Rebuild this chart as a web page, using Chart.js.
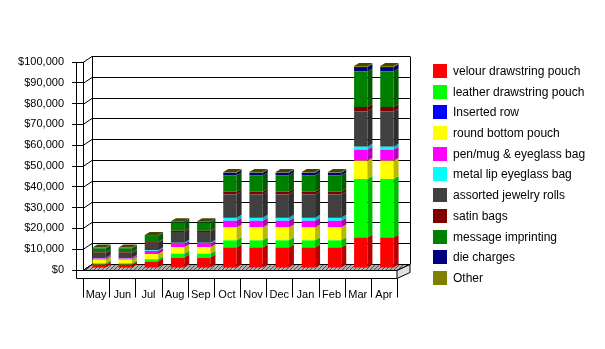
<!DOCTYPE html>
<html>
<head>
<meta charset="utf-8">
<script src="https://cdn.jsdelivr.net/npm/chart.js@4.4.0/dist/chart.umd.min.js"></script>
<style>
  body { margin: 0; background: #fff; }
  #wrap { position: relative; width: 605px; height: 349px; }
  #legend { position: absolute; left: 433px; top: 64px; font: 12px 'Liberation Sans', Arial, sans-serif; color: #000; }
  #legend .row { height: 20.7px; display: flex; align-items: flex-start; white-space: nowrap; }
  #legend .box { width: 14px; height: 14px; margin-right: 6px; flex: none; }
  #legend .txt { line-height: 14px; }
</style>
</head>
<body>
<div id="wrap">
  <canvas id="chart" width="605" height="349"></canvas>
  <div id="legend"></div>
</div>
<script>
const months = ['May', 'Jun', 'Jul', 'Aug', 'Sep', 'Oct', 'Nov', 'Dec', 'Jan', 'Feb', 'Mar', 'Apr'];

// monthly sales per product line, in dollars
const velour      = [1600, 1600, 3100, 5000, 5000, 9900, 9900, 9900, 9900, 9900, 14700, 14700];
const leather     = [700, 700, 1100, 1900, 1900, 3400, 3400, 3400, 3400, 3400, 28100, 28100];
const insertedRow = [0, 0, 0, 0, 0, 0, 0, 0, 0, 0, 0, 0];
const roundBottom = [1700, 1700, 2500, 3100, 3100, 6200, 6200, 6200, 6200, 6200, 8800, 8800];
const penMug      = [600, 600, 1500, 1700, 1700, 3200, 3200, 3200, 3200, 3200, 5300, 5300];
const metalLip    = [200, 200, 300, 400, 400, 1400, 1400, 1400, 1400, 1400, 1400, 1400];
const jewelry     = [2400, 2400, 3600, 5200, 5200, 11300, 11300, 11300, 11300, 11300, 17000, 17000];
const satin       = [300, 300, 400, 600, 600, 1300, 1300, 1300, 1300, 1300, 2100, 2100];
const imprinting  = [1900, 1900, 2900, 4000, 4000, 7900, 7900, 7900, 7900, 7900, 17100, 17100];
const dieCharges  = [200, 200, 300, 400, 400, 1200, 1200, 1200, 1200, 1200, 2100, 2100];
const other       = [200, 200, 200, 200, 200, 300, 300, 300, 300, 300, 500, 500];

const seriesNames = ['velour drawstring pouch', 'leather drawstring pouch', 'Inserted row', 'round bottom pouch',
  'pen/mug & eyeglass bag', 'metal lip eyeglass bag', 'assorted jewelry rolls', 'satin bags',
  'message imprinting', 'die charges', 'Other'];
const seriesData = [velour, leather, insertedRow, roundBottom, penMug, metalLip, jewelry, satin, imprinting, dieCharges, other];
const seriesColors = ['#ff0000', '#00ff00', '#0000ff', '#ffff00', '#ff00ff', '#00ffff', '#404040', '#800000', '#008000', '#000080', '#808000'];

const yMax = 100000;
const yStep = 10000;

// depth of the box walls and of each bar
const WALL_DX = 9, WALL_DY = 6, WALL_DX_RIGHT = 13;
const BAR_DX = 5, BAR_DY = 3;
const BAR_SHIFT_X = 3, BAR_SHIFT_Y = -2;

function shade(hex, f) {
  const n = parseInt(hex.slice(1), 16);
  const r = Math.round(((n >> 16) & 255) * f);
  const g = Math.round(((n >> 8) & 255) * f);
  const b = Math.round((n & 255) * f);
  return 'rgb(' + r + ',' + g + ',' + b + ')';
}

function poly(ctx, pts, fill, stroke) {
  ctx.beginPath();
  ctx.moveTo(pts[0][0], pts[0][1]);
  for (let i = 1; i < pts.length; i++) ctx.lineTo(pts[i][0], pts[i][1]);
  ctx.closePath();
  if (fill) { ctx.fillStyle = fill; ctx.fill(); }
  if (stroke) { ctx.strokeStyle = stroke; ctx.stroke(); }
}

function line(ctx, x1, y1, x2, y2) {
  ctx.beginPath();
  ctx.moveTo(x1, y1);
  ctx.lineTo(x2, y2);
  ctx.stroke();
}

function floorPattern() {
  const c = document.createElement('canvas');
  c.width = 4; c.height = 4;
  const p = c.getContext('2d');
  p.fillStyle = '#b0b0b0';
  p.fillRect(0, 0, 4, 4);
  p.fillStyle = '#505050';
  for (let i = 0; i < 4; i++) p.fillRect(i, 3 - i, 1, 1);
  return c;
}

// walls, floor and the 3d sides of the bars
const box3d = {
  id: 'box3d',
  beforeDatasetsDraw(chart) {
    const { ctx, chartArea: a, scales: { x, y } } = chart;
    const base = Math.round(y.getPixelForValue(0)) + 0.5;
    const top = Math.round(y.getPixelForValue(yMax)) + 0.5;
    const frontBottom = base + 8;
    ctx.save();
    ctx.lineWidth = 1;
    ctx.strokeStyle = '#000';

    // floor slab
    poly(ctx, [[a.left, base], [a.right, base], [a.right + WALL_DX_RIGHT, base - WALL_DY], [a.left + WALL_DX, base - WALL_DY]],
      ctx.createPattern(floorPattern(), 'repeat'), '#000');
    poly(ctx, [[a.right, base], [a.right + WALL_DX_RIGHT, base - WALL_DY], [a.right + WALL_DX_RIGHT, frontBottom - WALL_DY], [a.right, frontBottom]],
      '#e0e0e0', '#000');

    // back wall grid lines and left wall diagonals
    y.ticks.forEach(t => {
      const py = Math.round(y.getPixelForValue(t.value)) + 0.5;
      line(ctx, a.left, py, a.left + WALL_DX, py - WALL_DY);
      line(ctx, a.left + WALL_DX, py - WALL_DY, a.right + WALL_DX_RIGHT, py - WALL_DY);
    });
    line(ctx, a.left + WALL_DX + 0.5, top - WALL_DY, a.left + WALL_DX + 0.5, base - WALL_DY);
    line(ctx, a.right + WALL_DX_RIGHT + 0.5, top - WALL_DY, a.right + WALL_DX_RIGHT + 0.5, base - WALL_DY);

    // outer frame and category dividers
    const fx = Math.round(a.left) - 7 + 0.5;
    line(ctx, fx, top, fx, frontBottom);
    line(ctx, fx, frontBottom, a.right, frontBottom);
    const n = months.length;
    const cw = (x.right - x.left) / n;
    for (let i = 0; i <= n; i++) {
      const px = Math.round(x.left + i * cw) + 0.5;
      line(ctx, px, frontBottom, px, frontBottom + 19);
    }
    ctx.restore();

    ctx.save();
    ctx.translate(BAR_SHIFT_X, BAR_SHIFT_Y);
  },
  afterDatasetsDraw(chart) {
    const { ctx } = chart;
    const metas = chart.getSortedVisibleDatasetMetas();
    for (let i = 0; i < months.length; i++) {
      let topBar = null, topColor = null;
      metas.forEach(meta => {
        const bar = meta.data[i];
        const { x, y, base, width } = bar.getProps(['x', 'y', 'base', 'width'], true);
        const t = Math.min(y, base), b = Math.max(y, base);
        if (b - t < 0.01) return;
        const color = seriesColors[meta.index];
        const r = x + width / 2;
        poly(ctx, [[r, t], [r + BAR_DX, t - BAR_DY], [r + BAR_DX, b - BAR_DY], [r, b]], shade(color, 0.72));
        topBar = { x, t, width };
        topColor = color;
      });
      if (topBar) {
        const l = topBar.x - topBar.width / 2, r = topBar.x + topBar.width / 2, t = topBar.t;
        poly(ctx, [[l, t], [l + BAR_DX, t - BAR_DY], [r + BAR_DX, t - BAR_DY], [r, t]], shade(topColor, 0.55));
      }
    }
    ctx.restore();
  }
};

const axisFont = { family: "'Liberation Sans', Arial, sans-serif", size: 11 };

new Chart(document.getElementById('chart'), {
  type: 'bar',
  data: {
    labels: months,
    datasets: seriesNames.map((name, i) => ({
      label: name,
      data: seriesData[i],
      backgroundColor: seriesColors[i],
      borderWidth: 0,
      barPercentage: 0.51,
      categoryPercentage: 1
    }))
  },
  options: {
    responsive: false,
    animation: false,
    layout: { padding: { top: 62, right: 208, left: 0, bottom: 0 } },
    plugins: { legend: { display: false }, tooltip: { enabled: false } },
    scales: {
      x: {
        stacked: true,
        grid: { display: false },
        border: { display: false },
        ticks: { color: '#000', font: axisFont, padding: 10, maxRotation: 0, autoSkip: false },
        afterFit(scale) { scale.height = 79; }
      },
      y: {
        stacked: true,
        min: 0,
        max: yMax,
        grid: { drawOnChartArea: false, drawTicks: true, tickLength: 11, color: '#000' },
        border: { display: true, color: '#000' },
        ticks: {
          stepSize: yStep,
          color: '#000',
          font: axisFont,
          padding: 8,
          callback: v => '$' + v.toLocaleString('en-US')
        },
        afterFit(scale) { scale.width = 83; }
      }
    }
  },
  plugins: [box3d]
});

// legend beside the plot
const legend = document.getElementById('legend');
seriesNames.forEach((name, i) => {
  const row = document.createElement('div');
  row.className = 'row';
  const box = document.createElement('span');
  box.className = 'box';
  box.style.background = seriesColors[i];
  const txt = document.createElement('span');
  txt.className = 'txt';
  txt.textContent = name;
  row.appendChild(box);
  row.appendChild(txt);
  legend.appendChild(row);
});
</script>
</body>
</html>
